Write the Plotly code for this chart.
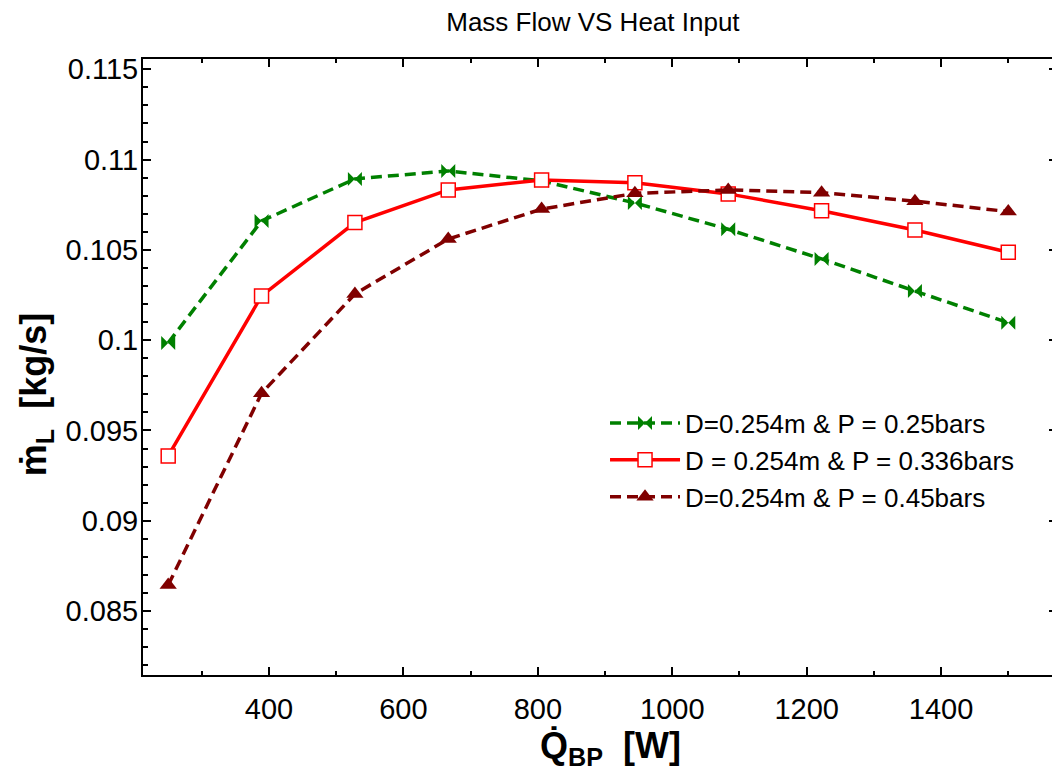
import plotly.graph_objects as go

# ---- data ----
heat_input_w = [250, 388.9, 527.8, 666.7, 805.6, 944.4, 1083.3, 1222.2, 1361.1, 1500]
mass_flow_p025 = [0.09985, 0.1066, 0.10893, 0.10937, 0.10882, 0.1076, 0.10614, 0.1045, 0.10272, 0.10097]
mass_flow_p0336 = [0.09359, 0.10245, 0.10651, 0.10832, 0.10887, 0.10872, 0.1081, 0.10717, 0.1061, 0.10487]
mass_flow_p045 = [0.08644, 0.09706, 0.10256, 0.1056, 0.10726, 0.10813, 0.10832, 0.10817, 0.1077, 0.10712]

series_names = ["D=0.254m & P = 0.25bars", "D = 0.254m & P = 0.336bars", "D=0.254m & P = 0.45bars"]

x_tick_vals = [400, 600, 800, 1000, 1200, 1400]
x_tick_text = ["400", "600", "800", "1000", "1200", "1400"]
y_tick_vals = [0.085, 0.09, 0.095, 0.1, 0.105, 0.11, 0.115]
y_tick_text = ["0.085", "0.09", "0.095", "0.1", "0.105", "0.11", "0.115"]

FONT = "Arial, Liberation Sans, sans-serif"

fig = go.Figure()
fig.add_trace(go.Scatter(
    x=heat_input_w, y=mass_flow_p025, name=series_names[0], mode="lines+markers",
    line=dict(color="#008000", width=3.5, dash="11px,6px"),
    marker=dict(symbol="bowtie", size=14, color="#008000"),
    legendgroup="a"))
fig.add_trace(go.Scatter(
    x=heat_input_w, y=mass_flow_p0336, name=series_names[1], mode="lines+markers",
    line=dict(color="#FF0000", width=3.5),
    marker=dict(symbol="square", size=14, color="white", line=dict(color="#FF0000", width=1.5)),
    legendgroup="b"))
fig.add_trace(go.Scatter(
    x=heat_input_w, y=mass_flow_p045, name=series_names[2], mode="lines+markers",
    line=dict(color="#800000", width=3.5, dash="11px,6px"),
    marker=dict(symbol="triangle-up", size=15, color="#800000"),
    legendgroup="c"))

axis_common = dict(
    showline=True, linecolor="black", linewidth=2, mirror="allticks",
    ticks="inside", ticklen=8, tickwidth=1.5, tickcolor="black",
    showgrid=False, zeroline=False,
    tickfont=dict(family=FONT, size=29, color="black"),
)

fig.update_xaxes(
    range=[212.5, 1572.5], tickmode="array", tickvals=x_tick_vals, ticktext=x_tick_text,
    minor=dict(dtick=100, tick0=0, ticks="inside", ticklen=4, tickwidth=1.5, tickcolor="black"),
    ticklabelstandoff=7, **axis_common)
fig.update_yaxes(
    range=[0.08146, 0.11557], tickmode="array", tickvals=y_tick_vals, ticktext=y_tick_text,
    minor=dict(dtick=0.001, tick0=0, ticks="inside", ticklen=5, tickwidth=1.5, tickcolor="black"),
    ticklabelstandoff=-3, **axis_common)

fig.update_layout(
    width=1052, height=767,
    margin=dict(l=135, r=1, t=51, b=100),
    paper_bgcolor="white", plot_bgcolor="white",
    font=dict(family=FONT, color="black"),
    title=dict(text="Mass Flow VS Heat Input", x=0.556, xref="container", xanchor="center",
               y=0.982, yref="container", yanchor="middle",
               font=dict(family=FONT, size=26, color="black")),
    legend=dict(x=0.5055, y=0.447, xanchor="left", yanchor="top",
                bgcolor="rgba(0,0,0,0)", borderwidth=0,
                font=dict(family=FONT, size=26, color="black"),
                itemwidth=70, tracegroupgap=0),
    showlegend=True,
    annotations=[
        dict(text="<b>Q\u0307<sub>BP</sub>\u00a0\u00a0[W]</b>", xref="paper", yref="paper",
             x=(612 - 143) / 916, y=-(748 - 675) / 616, xanchor="center", yanchor="middle",
             showarrow=False, font=dict(family=FONT, size=36, color="black")),
        dict(text="<b>\u1e41<sub>L</sub>\u00a0\u00a0[kg/s]</b>", xref="paper", yref="paper",
             x=-(143 - 36) / 916, y=(675 - 395) / 616, xanchor="center", yanchor="middle",
             textangle=-90, showarrow=False, font=dict(family=FONT, size=36, color="black")),
    ],
)

fig.write_html("out.html")
